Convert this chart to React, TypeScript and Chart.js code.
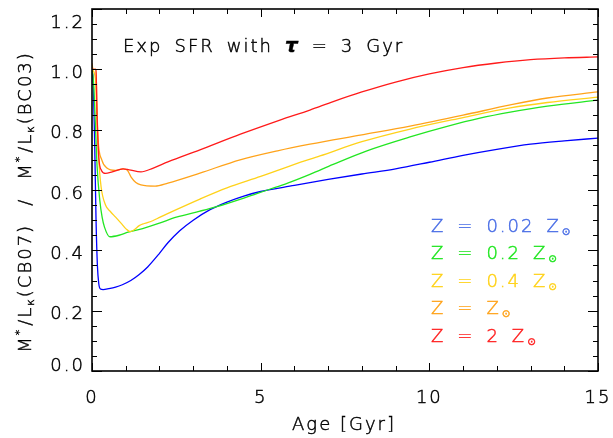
import React, { useEffect, useRef } from 'react';
import { Chart, registerables } from 'chart.js';
Chart.register(...registerables);

// ---------- data ----------
const blueAge = [0, 0.04, 0.08, 0.12, 0.16, 0.2, 0.25, 0.33, 0.5, 0.7, 0.9, 1.15, 1.4, 1.65, 2.0, 2.25, 2.6, 3.0, 3.5, 4.0, 4.5, 5.0, 6.0, 7.0, 8.0, 9.0, 10.0, 11.0, 12.0, 13.0, 14.0, 15.0];
const blueML = [1.0, 0.95, 0.75, 0.5, 0.35, 0.29, 0.272, 0.27, 0.273, 0.278, 0.286, 0.3, 0.32, 0.345, 0.39, 0.425, 0.465, 0.5, 0.535, 0.56, 0.58, 0.595, 0.615, 0.635, 0.653, 0.67, 0.692, 0.715, 0.735, 0.752, 0.763, 0.772];

const greenAge = [0, 0.05, 0.1, 0.15, 0.23, 0.3, 0.37, 0.53, 0.8, 1.07, 1.5, 2.0, 2.5, 3.2, 3.7, 4.0, 4.5, 5.2, 5.8, 6.46, 7.15, 8.15, 9.43, 10.5, 11.5, 12.4, 13.5, 15];
const greenML = [1.0, 0.95, 0.82, 0.68, 0.567, 0.51, 0.477, 0.445, 0.45, 0.46, 0.472, 0.49, 0.51, 0.53, 0.545, 0.555, 0.573, 0.6, 0.623, 0.652, 0.685, 0.73, 0.776, 0.81, 0.838, 0.858, 0.878, 0.898];

const yellowAge = [0, 0.1, 0.15, 0.2, 0.27, 0.4, 0.55, 0.7, 0.86, 1.0, 1.13, 1.25, 1.4, 1.55, 1.8, 2.02, 2.5, 3.2, 4.0, 5.0, 6.0, 6.76, 8.0, 9.43, 11.0, 12.4, 13.5, 15];
const yellowML = [1.0, 0.97, 0.82, 0.7, 0.61, 0.55, 0.528, 0.51, 0.49, 0.472, 0.462, 0.468, 0.482, 0.489, 0.498, 0.51, 0.535, 0.57, 0.607, 0.645, 0.685, 0.713, 0.76, 0.802, 0.84, 0.872, 0.89, 0.908];

const orangeAge = [0, 0.03, 0.12, 0.14, 0.18, 0.29, 0.44, 0.7, 0.92, 1.05, 1.16, 1.3, 1.45, 1.87, 2.25, 3.2, 4.39, 5.5, 6.46, 8.0, 9.43, 11.0, 12.4, 13.5, 15];
const orangeML = [1.02, 1.0, 1.0, 0.9, 0.77, 0.7, 0.673, 0.665, 0.67, 0.665, 0.643, 0.625, 0.617, 0.613, 0.623, 0.656, 0.7, 0.73, 0.752, 0.783, 0.812, 0.848, 0.882, 0.905, 0.925];

const redAge = [0, 0.12, 0.15, 0.2, 0.28, 0.4, 0.6, 0.92, 1.1, 1.45, 1.8, 2.25, 3.2, 4.4, 5.57, 6.46, 7.15, 8.0, 9.0, 10.0, 11.0, 12.0, 13.0, 14.0, 15.0];
const redML = [1.0, 1.0, 0.85, 0.71, 0.665, 0.655, 0.66, 0.67, 0.667, 0.66, 0.672, 0.693, 0.733, 0.785, 0.832, 0.865, 0.893, 0.925, 0.958, 0.985, 1.006, 1.021, 1.032, 1.038, 1.041];

const seriesLabels = ['0.02', '0.2', '0.4', '', '2'];
const lineColors = ['#0000ff', '#22e622', '#ffd21a', '#ffa31a', '#ff1a1a'];
const legendColors = ['#4a6ee6', '#22e622', '#ffd21a', '#ffa31a', '#ff2020'];

const xMajorTicks = [0, 5, 10, 15];
const xTickLabels = ['0', '5', '10', '15'];
const yMajorTicks = [0, 0.2, 0.4, 0.6, 0.8, 1.0, 1.2];
const yTickLabels = ['0.0', '0.2', '0.4', '0.6', '0.8', '1.0', '1.2'];
const X_MIN = 0, X_MAX = 15, X_MINOR = 1;
const Y_MIN = 0, Y_MAX = 1.2, Y_MINOR = 0.05;

const titleWords = ['Exp', 'SFR', 'with', 'τ', '=', '3', 'Gyr'];
const xTitle = 'Age [Gyr]';

// ---------- text helpers ----------
const FAM = "'DejaVu Sans', 'Liberation Sans', sans-serif";
const FS = 18;
const LS = 2;

function measure(ctx: CanvasRenderingContext2D, t: string, font: string, ls: number) {
  ctx.font = font;
  (ctx as any).letterSpacing = '0px';
  return ctx.measureText(t).width + ls * t.length;
}
function put(ctx: CanvasRenderingContext2D, t: string, x: number, y: number, font: string, ls: number) {
  ctx.font = font;
  (ctx as any).letterSpacing = ls + 'px';
  ctx.textAlign = 'left';
  ctx.textBaseline = 'alphabetic';
  ctx.fillText(t, x, y);
  ctx.strokeStyle = ctx.fillStyle;
  ctx.lineWidth = 0.45;
  ctx.strokeText(t, x, y);
  (ctx as any).letterSpacing = '0px';
}

type Seg = { t: string; f: string; dy: number; gap?: number };
function segsWidth(ctx: CanvasRenderingContext2D, segs: Seg[]) {
  let w = 0;
  segs.forEach((s) => { w += (s.gap || 0) + measure(ctx, s.t, s.f, LS); });
  return w;
}
function drawSegs(ctx: CanvasRenderingContext2D, segs: Seg[], x: number, y: number) {
  let cx = x;
  segs.forEach((s) => {
    cx += s.gap || 0;
    put(ctx, s.t, cx, y + s.dy, s.f, LS);
    cx += measure(ctx, s.t, s.f, LS);
  });
}

const normal = `200 ${FS}px ${FAM}`;
const small = `200 11px ${FAM}`;

const decorPlugin = {
  id: 'idlDecor',
  afterDatasetsDraw(chart: any) {
    const { ctx, chartArea: a, scales } = chart;
    const xs = scales.x, ys = scales.y;
    ctx.save();
    // frame
    ctx.strokeStyle = '#000';
    ctx.lineWidth = 1.6;
    ctx.strokeRect(a.left, a.top, a.right - a.left, a.bottom - a.top);
    ctx.lineWidth = 1;
    const seg = (x1: number, y1: number, x2: number, y2: number) => {
      ctx.beginPath(); ctx.moveTo(x1, y1); ctx.lineTo(x2, y2); ctx.stroke();
    };
    const nx = Math.round((X_MAX - X_MIN) / X_MINOR);
    for (let i = 0; i <= nx; i++) {
      const v = X_MIN + i * X_MINOR;
      const px = Math.round(xs.getPixelForValue(v)) + 0.5;
      const major = xMajorTicks.some((m) => Math.abs(m - v) < 1e-6);
      const len = major ? 8 : 5;
      seg(px, a.bottom, px, a.bottom - len);
      seg(px, a.top, px, a.top + len);
    }
    const ny = Math.round((Y_MAX - Y_MIN) / Y_MINOR);
    for (let i = 0; i <= ny; i++) {
      const v = Y_MIN + i * Y_MINOR;
      const py = Math.round(ys.getPixelForValue(v)) + 0.5;
      const major = yMajorTicks.some((m) => Math.abs(m - v) < 1e-6);
      const len = major ? 10 : 5;
      seg(a.left, py, a.left + len, py);
      seg(a.right, py, a.right - len, py);
    }
    ctx.fillStyle = '#000';
    // y tick labels
    yMajorTicks.forEach((v, i) => {
      const t = yTickLabels[i];
      const c = Math.min(Math.max(ys.getPixelForValue(v) + 2, a.top + 12), a.bottom - 6.5);
      const w = measure(ctx, t, normal, LS) - LS;
      put(ctx, t, a.left - 9 - w, c + 6.5, normal, LS);
    });
    // x tick labels
    xMajorTicks.forEach((v, i) => {
      const t = xTickLabels[i];
      const w = measure(ctx, t, normal, LS) - LS;
      put(ctx, t, xs.getPixelForValue(v) - 1 - w / 2, a.bottom + 31.5, normal, LS);
    });
    // x title
    {
      const w = measure(ctx, xTitle, normal, LS) - LS;
      put(ctx, xTitle, (a.left + a.right) / 2 - 2 - w / 2, a.bottom + 59, normal, LS);
    }
    // y title (rotated)
    {
      const part = (lab: string, gap: number): Seg[] => [
        { t: 'M', f: normal, dy: 0, gap },
        { t: '*', f: small, dy: -8 },
        { t: '/', f: normal, dy: 0, gap: 2 },
        { t: 'L', f: normal, dy: 0 },
        { t: 'κ', f: small, dy: 3 },
        { t: lab, f: normal, dy: 0 },
      ];
      const segs: Seg[] = [
        ...part('(CB07)', 0),
        { t: '/', f: normal, dy: 0, gap: 18 },
        ...part('(BC03)', 18),
      ];
      const w = segsWidth(ctx, segs);
      ctx.save();
      ctx.translate(24 + 6.5, (a.top + a.bottom) / 2 + 12);
      ctx.rotate(-Math.PI / 2);
      drawSegs(ctx, segs, -w / 2, 0);
      ctx.restore();
    }
    // title
    {
      let cx = a.left + 31;
      const by = a.top + 43;
      titleWords.forEach((t) => {
        const f = t === 'τ' ? `italic bold ${FS + 2}px ${FAM}` : normal;
        put(ctx, t, cx, by, f, LS);
        cx += measure(ctx, t, f, LS) + 12;
      });
    }
    // legend
    seriesLabels.forEach((lab, i) => {
      const by = a.top + 222.5 + i * 27.5;
      ctx.fillStyle = legendColors[i];
      const toks = ['Z', '=', ...(lab ? [lab] : []), 'Z'];
      let cx = a.left + 339;
      toks.forEach((t) => {
        put(ctx, t, cx, by, normal, LS);
        cx += measure(ctx, t, normal, LS) + 12;
      });
      put(ctx, '⊙', cx - 12 + 1, by + 3, `10px ${FAM}`, 0);
    });
    ctx.restore();
  },
};

function mk(ages: number[], vals: number[], color: string) {
  return {
    data: ages.map((a, i) => ({ x: a, y: vals[i] })),
    borderColor: color,
    backgroundColor: color,
    borderWidth: 1.3,
    pointRadius: 0,
    fill: false,
    cubicInterpolationMode: 'monotone' as const,
  };
}

export default function App() {
  const ref = useRef<HTMLCanvasElement | null>(null);
  useEffect(() => {
    if (!ref.current) return;
    const chart = new Chart(ref.current, {
      type: 'line',
      data: {
        datasets: [
          mk(redAge, redML, lineColors[4]),
          mk(orangeAge, orangeML, lineColors[3]),
          mk(yellowAge, yellowML, lineColors[2]),
          mk(greenAge, greenML, lineColors[1]),
          mk(blueAge, blueML, lineColors[0]),
        ],
      },
      options: {
        responsive: false,
        animation: false,
        layout: { padding: { top: 9, right: 15, left: 0, bottom: 0 } },
        plugins: { legend: { display: false }, tooltip: { enabled: false }, title: { display: false } },
        scales: {
          x: {
            type: 'linear', min: X_MIN, max: X_MAX,
            grid: { display: false, drawTicks: false },
            border: { display: false },
            ticks: { display: false },
            afterFit: (s: any) => { s.height = 67; },
          },
          y: {
            type: 'linear', min: Y_MIN, max: Y_MAX,
            grid: { display: false, drawTicks: false },
            border: { display: false },
            ticks: { display: false },
            afterFit: (s: any) => { s.width = 92; },
          },
        },
      },
      plugins: [decorPlugin],
    } as any);
    return () => chart.destroy();
  }, []);
  return (
    <div style={{ position: 'fixed', left: 0, top: 0, width: 613, height: 438, background: '#fff' }}>
      <canvas ref={ref} width={613} height={438} style={{ display: 'block' }} />
    </div>
  );
}
